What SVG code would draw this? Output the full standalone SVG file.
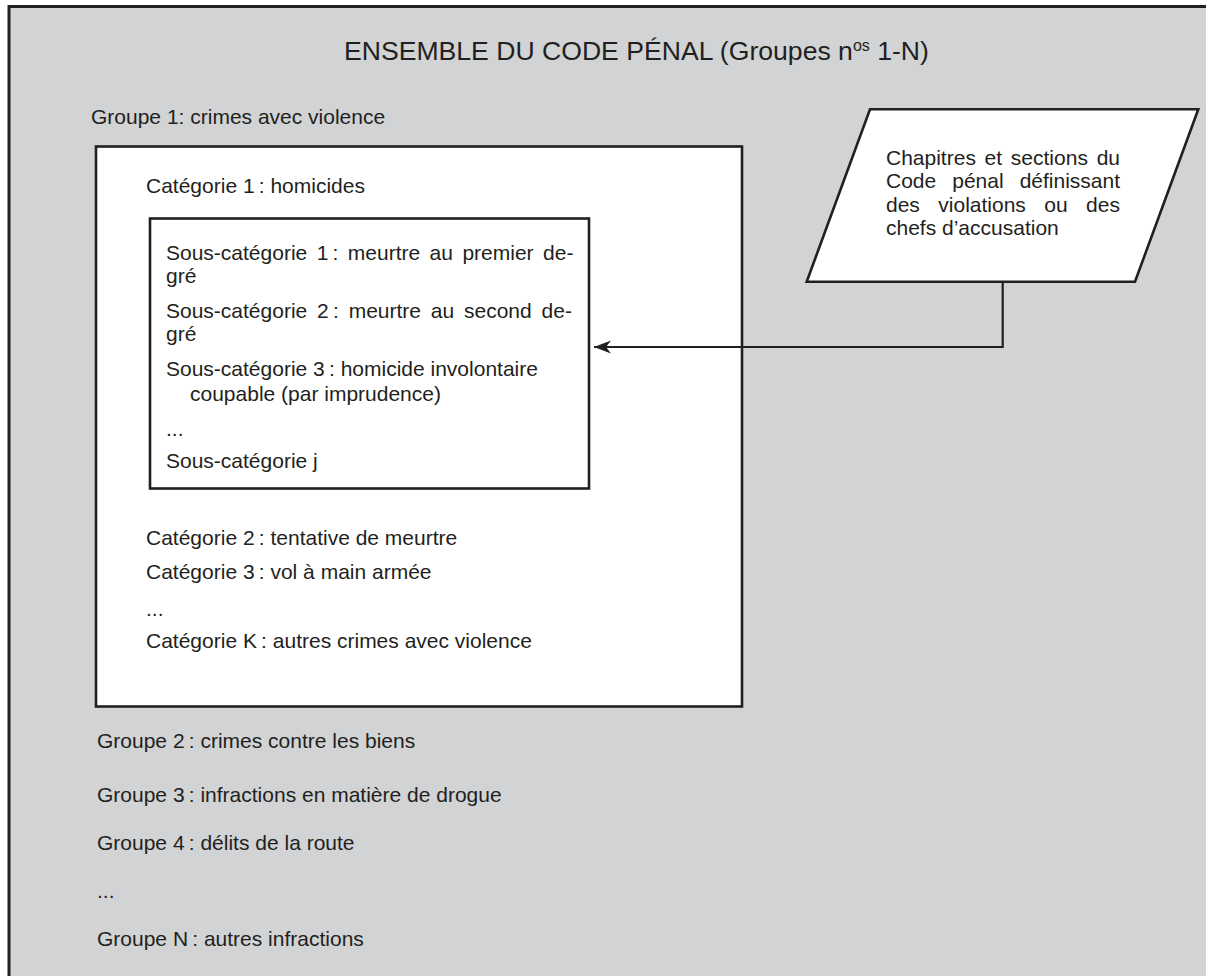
<svg xmlns="http://www.w3.org/2000/svg" width="1206" height="976" viewBox="0 0 1206 976">
<style>
text{font-family:"Liberation Sans",Arial,sans-serif;font-size:21px;fill:#231f20}
.title{font-size:26.6px}
.box{fill:#fff;stroke:#231f20;stroke-width:2.6}
.conn{fill:none;stroke:#231f20;stroke-width:2.2}
</style>
<defs>
<marker id="arr" markerUnits="userSpaceOnUse" markerWidth="18" markerHeight="14" refX="17" refY="7" orient="auto" viewBox="0 0 18 14">
<path d="M17,7 L0,0.5 L5,7 L0,13.5 Z" fill="#231f20"/>
</marker>
</defs>
<g id="frame">
<rect x="9" y="6.5" width="1200" height="975" fill="#d1d3d4"/>
<path d="M9,976 V6.5 H1206" fill="none" stroke="#231f20" stroke-width="3"/>
<text class="title" x="344" y="60">ENSEMBLE DU CODE PÉNAL (Groupes n<tspan font-size="16" dy="-9">os</tspan><tspan dy="9"> 1-N)</tspan></text>
</g>
<g id="groupe1">
<text x="91" y="124">Groupe 1: crimes avec violence</text>
<rect class="box" x="96" y="146.5" width="646" height="560"/>
<text x="146" y="193">Catégorie 1&#8239;: homicides</text>
<text x="146" y="545">Catégorie 2&#8239;: tentative de meurtre</text>
<text x="146" y="579">Catégorie 3&#8239;: vol à main armée</text>
<text x="146" y="616">...</text>
<text x="146" y="648">Catégorie K&#8239;: autres crimes avec violence</text>
</g>
<g id="categorie1">
<rect class="box" x="150" y="218.5" width="439" height="270"/>
<text x="166" y="260" word-spacing="3.6">Sous-catégorie 1&#8239;: meurtre au premier de-</text>
<text x="166" y="283">gré</text>
<text x="166" y="318" word-spacing="4">Sous-catégorie 2&#8239;: meurtre au second de-</text>
<text x="166" y="341">gré</text>
<text x="166" y="376">Sous-catégorie 3&#8239;: homicide involontaire</text>
<text x="190" y="401">coupable (par imprudence)</text>
<text x="166" y="436">...</text>
<text x="166" y="468">Sous-catégorie j</text>
</g>
<g id="source">
<polygon class="box" points="870,109.3 1198.3,109.3 1135,281.7 806.7,281.7"/>
<text x="886" y="165" word-spacing="2.9">Chapitres et sections du</text>
<text x="886" y="188" word-spacing="10.2">Code pénal définissant</text>
<text x="886" y="212" word-spacing="12.6">des violations ou des</text>
<text x="886" y="235">chefs d’accusation</text>
</g>
<g id="connectors">
<path class="conn" d="M1002.7,281.7 V347 H594" marker-end="url(#arr)"/>
</g>
<g id="groupes">
<text x="97" y="748">Groupe 2&#8239;: crimes contre les biens</text>
<text x="97" y="802">Groupe 3&#8239;: infractions en matière de drogue</text>
<text x="97" y="850">Groupe 4&#8239;: délits de la route</text>
<text x="97" y="898">...</text>
<text x="97" y="946">Groupe N&#8239;: autres infractions</text>
</g>
</svg>
